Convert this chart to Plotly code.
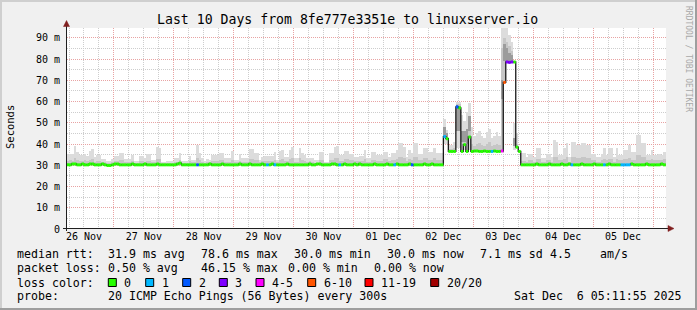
import plotly.graph_objects as go
import pandas as pd

# ---------------- data ----------------
TITLE = "Last 10 Days from 8fe777e3351e to linuxserver.io"
RANGE_START = "2025-11-26 05:11:55"
RANGE_END = "2025-12-06 05:11:55"
FIRST_STEP = "2025-11-26 05:00:00"
N_STEPS = 241
times = pd.date_range(FIRST_STEP, periods=N_STEPS, freq="h")

# median rtt per hour (ms)
median_ms = [
    30.2,30.2,30.6,30.6,30.2,30.2,30.6,30.2,30.2,30.6,30.6,30.2,30.2,30.2,30.6,30.2,29.9,29.9,30.2,30.6,30.6,30.2,30.2,30.2,
    30.2,30.2,30.6,30.2,30.2,30.2,30.2,30.6,30.2,30.2,30.2,30.2,30.6,30.2,30.2,30.2,30.2,30.2,30.2,30.2,30.6,31.0,30.2,30.2,
    30.2,30.2,30.2,30.2,30.2,30.2,30.2,30.2,30.2,30.6,30.2,30.2,30.2,30.2,30.6,30.2,30.2,30.2,30.2,30.2,30.2,30.6,30.2,30.2,
    30.2,30.6,30.2,30.2,30.2,30.2,30.6,30.2,30.2,30.2,30.6,30.2,30.2,30.2,30.2,30.2,30.6,30.2,30.2,30.2,30.2,30.2,30.2,30.2,
    30.2,30.6,30.2,30.2,30.6,30.6,30.2,30.2,30.2,30.2,30.6,30.6,30.2,30.2,30.2,30.6,30.2,30.2,30.2,30.6,30.2,30.6,30.2,30.2,
    30.2,30.2,30.2,30.6,30.2,30.2,30.2,30.2,30.6,30.2,30.2,30.2,30.6,30.2,30.2,30.2,30.2,30.6,30.2,30.2,30.2,30.2,30.2,30.6,
    30.2,30.2,30.6,30.2,30.2,30.2,30.2,
    43.5,42.5,36.5,36.5,36.5,57.5,57.0,36.5,39.7,36.5,43.3,36.5,36.7,36.7,36.5,36.5,
    36.7,36.5,36.5,36.5,36.7,36.5,36.5,36.7,69.0,78.6,78.4,78.6,78.6,38.5,36.5,30.2,
    30.2,30.2,30.2,30.2,30.2,30.6,30.2,30.2,30.2,30.2,30.6,30.2,30.2,30.2,30.2,30.6,30.2,30.2,30.6,30.2,30.2,30.2,30.2,30.6,
    30.2,30.2,30.2,30.2,30.6,30.2,30.2,30.2,30.2,30.2,30.6,30.2,30.2,30.2,30.2,30.2,30.2,30.2,30.2,30.6,30.2,30.2,30.2,30.2,
    30.2,30.6,30.2,30.2,30.2,30.2,30.2,30.6,30.2,30.2,
]

# highest ping per hour (top of the smoke, ms)
smoke_max_ms = [
    35.2,35.5,35.2,39.0,36.2,34.8,34.8,35.5,34.5,36.5,37.5,33.7,34.8,34.8,33.0,32.9,32.0,32.0,33.0,
    34.5,34.5,35.6,35.6,32.9,32.9,32.9,34.8,31.9,31.9,34.5,34.5,33.2,35.1,35.1,32.4,32.4,38.5,38.0,31.6,
    31.6,31.9,31.9,32.0,33.2,33.2,36.0,31.9,31.9,32.0,34.5,32.4,32.4,39.5,36.0,33.2,32.0,33.0,32.4,34.8,
    34.8,34.8,35.6,35.6,33.2,33.2,33.5,36.7,32.4,32.4,
    35.1,33.2,33.2,33.2,37.6,37.6,35.6,35.6,32.4,34.0,
    34.5,34.5,34.5,34.5,36.3,32.4,36.7,37.0,34.0,34.0,
    37.1,38.7,33.2,33.2,38.2,36.0,34.8,33.2,33.2,33.2,
    32.4,32.4,36.3,36.3,31.6,31.6,35.6,35.6,38.5,39.0,
    34.8,34.8,36.7,36.7,35.1,35.1,34.0,34.0,
    34.3,34.3,37.1,33.2,33.2,36.3,36.3,34.8,34.8,34.8,
    36.3,36.3,34.0,35.6,35.6,37.1,40.3,40.3,38.7,33.7,
    37.1,36.0,40.3,40.3,35.2,35.2,37.9,37.9,36.3,36.3,
    37.9,35.6,35.6,35.6,
    52.0,46.5,39.5,39.5,41.0,60.0,60.0,53.6,51.0,55.0,59.4,48.0,44.0,45.0,46.0,44.0,
    43.0,45.5,47.0,43.0,44.0,45.5,44.0,100.0,100.0,96.0,91.4,88.0,50.0,45.0,36.0,35.7,
    35.7,
    33.9,35.5,35.5,33.9,37.9,37.9,33.2,33.2,35.5,35.5,
    33.9,41.8,41.0,34.8,34.8,37.9,40.3,33.9,41.0,41.0,
    39.5,39.5,40.3,40.3,39.5,39.5,35.2,35.2,33.9,33.9,
    35.5,37.9,34.8,37.9,37.9,33.9,37.9,34.8,34.8,37.1,
    37.1,39.5,36.3,36.3,44.2,44.2,40.3,40.3,34.8,34.8,
    37.1,34.8,34.8,35.5,34.8,36.3,36.3,
]

# upper-quartile ping per hour (ms)
smoke_q3_ms = [
    32.0,32.5,32.0,33.5,32.5,31.8,32.0,32.5,31.8,32.5,33.0,31.5,32.0,32.0,31.5,31.5,31.0,31.0,31.5,32.0,32.0,32.5,32.5,31.5,
    31.5,31.5,32.0,31.0,31.0,32.0,32.0,31.5,32.0,32.0,31.5,31.5,33.0,33.0,31.0,31.0,31.0,31.0,31.2,31.5,31.5,32.5,31.0,31.0,
    31.2,32.0,31.5,31.5,33.5,32.5,31.5,31.2,31.5,31.5,32.0,32.0,32.0,32.5,32.5,31.5,31.5,31.5,32.5,31.5,31.5,32.0,31.5,31.5,
    31.5,33.0,33.0,32.5,32.5,31.5,31.8,32.0,32.0,32.0,32.0,32.5,31.5,32.5,33.0,32.0,32.0,33.0,33.5,31.5,31.5,33.5,32.5,32.0,
    31.5,31.8,31.5,31.2,31.2,32.5,32.5,31.0,31.0,32.5,32.5,33.5,33.5,32.0,32.0,33.0,33.0,32.5,32.5,32.0,32.0,32.0,32.0,33.0,
    31.5,31.5,32.5,32.5,32.0,32.0,32.0,33.0,33.0,32.0,32.5,32.5,33.0,34.0,34.0,33.5,31.8,33.0,32.5,34.0,34.0,32.5,32.5,33.5,
    33.5,32.5,32.5,33.5,32.5,32.5,32.5,
    48.0,44.0,37.5,37.5,38.0,59.0,59.0,45.0,46.0,46.0,52.0,40.0,39.0,40.0,40.5,39.5,
    39.0,40.0,41.0,39.0,39.5,40.0,39.5,85.0,90.0,88.0,86.0,84.0,44.0,40.0,32.0,32.0,
    32.0,31.5,32.5,32.5,31.5,33.0,33.0,31.5,31.5,32.5,32.5,31.5,34.0,34.0,32.5,32.5,33.0,34.0,31.5,34.0,34.0,33.5,33.5,34.0,
    34.0,33.5,33.5,32.5,32.5,31.5,31.5,32.5,33.0,32.5,33.0,33.0,31.5,33.0,32.5,32.5,33.0,33.0,33.5,32.5,32.5,35.0,35.0,34.0,
    34.0,32.5,32.5,33.0,32.5,32.5,32.5,32.5,33.0,33.0,
]

# lost pings (of 20) per hour
loss_pings = [
    0,0,0,0,0,0,0,0,0,0,0,0,0,0,0,0,0,0,0,0,0,0,0,0,
    0,0,0,0,0,0,0,0,0,0,0,0,0,0,0,0,0,0,0,0,0,0,0,0,
    0,0,0,0,2,0,0,0,0,0,0,0,0,0,0,0,0,0,0,0,0,0,0,0,
    0,0,0,0,0,0,0,0,1,0,0,1,0,0,0,0,0,0,0,0,0,0,0,0,
    0,0,0,0,0,0,0,0,0,0,0,0,0,1,0,0,0,0,0,0,0,0,0,0,
    0,0,0,0,0,0,0,0,0,0,0,1,0,0,0,0,0,0,2,0,0,0,0,0,
    0,0,0,0,0,0,0,
    1,0,0,0,0,2,0,0,0,0,0,0,0,0,0,0,
    0,0,0,1,0,0,0,4,9,3,3,3,0,0,0,0,
    0,0,0,0,0,0,0,0,0,0,0,0,0,0,0,0,0,0,0,1,0,0,0,0,
    0,0,0,0,0,0,0,0,1,0,0,0,0,0,0,1,1,1,1,0,0,0,0,0,
    0,0,0,0,0,0,0,0,0,0,
]

# wide-spread hours during the 02-03 Dec event (hour index into times)
event_hours = [151, 152, 156, 157, 158, 159, 160, 161, 174, 175, 176, 177, 178, 179]
event_min_ms = [40, 40, 38, 38, 36.5, 37, 37, 37, 55, 78, 78, 78, 78, 37]
event_core_lo = [44, 43, 46, 46, 41, 41, 40, 46, 61, 79, 79, 79, 79, 39]
event_core_hi = [48, 45, 58.5, 58, 46, 46, 47, 53, 70, 87, 85, 83, 82, 43]

for name, arr in [("median", median_ms), ("max", smoke_max_ms), ("q3", smoke_q3_ms), ("loss", loss_pings)]:
    if len(arr) != N_STEPS:
        raise SystemExit(f"{name} has {len(arr)} values")

y_tick_vals = [0, 10, 20, 30, 40, 50, 60, 70, 80, 90]
y_tick_text = ["0", "10 m", "20 m", "30 m", "40 m", "50 m", "60 m", "70 m", "80 m", "90 m"]
Y_MAX = 94.6

loss_labels = ["0", "1", "2", "3", "4-5", "6-10", "11-19", "20/20"]
loss_upper = [0, 1, 2, 3, 5, 10, 19, 20]
loss_colors = ["#26ff00", "#00b8ff", "#0059ff", "#7e00ff", "#ff00ff", "#ff5500", "#ff0000", "#a10000"]

rtt_stats = ["31.9 ms avg", "78.6 ms max", "30.0 ms min", "30.0 ms now", "7.1 ms sd", "4.5", "am/s"]
loss_stats = ["0.50 % avg", "46.15 % max", "0.00 % min", "0.00 % now"]
probe_text = "20 ICMP Echo Pings (56 Bytes) every 300s"
stamp_text = "Sat Dec  6 05:11:55 2025"

# ---------------- layout geometry ----------------
W, H = 697, 310
L, R, T, B = 67, 31, 28, 81
PW, PH = W - L - R, H - T - B
MONO = "DejaVu Sans Mono"
HOUR = pd.Timedelta(hours=1)
HOUR_MS = 3600 * 1000


def xp(px):
    return (px - L) / PW


def yp(py):
    return (T + PH - py) / PH


def loss_band(n):
    for k, up in enumerate(loss_upper):
        if n <= up:
            return k
    return len(loss_upper) - 1


fig = go.Figure()

# smoke: light (min..max)
light_base = list(median_ms)
for h, v in zip(event_hours, event_min_ms):
    light_base[h] = v
fig.add_bar(x=times, base=light_base, y=[mx - b for mx, b in zip(smoke_max_ms, light_base)],
            width=HOUR_MS, offset=0, marker=dict(color="#dcdcdc", line=dict(width=0)), hoverinfo="skip")
# smoke: medium (median..q3)
fig.add_bar(x=times, base=median_ms, y=[max(q - m, 0) for q, m in zip(smoke_q3_ms, median_ms)],
            width=HOUR_MS, offset=0, marker=dict(color="#c6c6c6", line=dict(width=0)), hoverinfo="skip")
# smoke: darker core during the event
fig.add_bar(x=[times[h] for h in event_hours], base=event_core_lo,
            y=[hi - lo for hi, lo in zip(event_core_hi, event_core_lo)],
            width=HOUR_MS, offset=0, marker=dict(color="#9c9c9c", line=dict(width=0)), hoverinfo="skip")

# black median step line
fig.add_scatter(x=times, y=median_ms, mode="lines", line=dict(shape="hv", color="#1a1a1a", width=1.3),
                hoverinfo="skip")

# coloured median segments by loss band (one horizontal segment per hour)
for k, col in enumerate(loss_colors):
    xs, ys = [], []
    for t, m, n in zip(times, median_ms, loss_pings):
        if loss_band(n) == k:
            xs += [t, t + HOUR, None]
            ys += [m, m, None]
    if xs:
        fig.add_scatter(x=xs, y=ys, mode="lines", line=dict(color=col, width=3), connectgaps=False,
                        hoverinfo="skip")

MAJOR = "#e8a3a3"
MINOR = "#cdcdcd"
fig.update_layout(
    width=W, height=H, autosize=False,
    margin=dict(l=L, r=R, t=T, b=B, pad=0),
    paper_bgcolor="#f0f0f0", plot_bgcolor="#ffffff",
    showlegend=False, barmode="overlay", bargap=0,
    xaxis=dict(
        type="date", range=[RANGE_START, RANGE_END], fixedrange=True,
        tickmode="linear", tick0="2025-11-26", dtick=86400000, ticklabelmode="period", tickformat="%d %b",
        showgrid=True, gridcolor=MAJOR, gridwidth=1, griddash="1px,1px",
        minor=dict(tickmode="linear", tick0="2025-11-26", dtick=6 * HOUR_MS, showgrid=True,
                   gridcolor=MINOR, gridwidth=1, griddash="1px,1px"),
        ticks="", showline=False, zeroline=False,
        tickfont=dict(family=MONO, size=10, color="#000000"),
    ),
    yaxis=dict(
        range=[0, Y_MAX], fixedrange=True,
        tickmode="array", tickvals=y_tick_vals, ticktext=y_tick_text,
        showgrid=True, gridcolor=MAJOR, gridwidth=1, griddash="1px,1px",
        minor=dict(tickmode="linear", tick0=0, dtick=5, showgrid=True,
                   gridcolor=MINOR, gridwidth=1, griddash="1px,1px"),
        ticks="", showline=False, zeroline=False, ticklabelstandoff=6,
        tickfont=dict(family=MONO, size=10, color="#000000"),
    ),
)

shapes = []
# frame (rrdtool 3D shade)
shapes.append(dict(type="rect", xref="paper", yref="paper", x0=xp(0), x1=xp(W), y0=yp(0), y1=yp(2),
                   fillcolor="#cfcfcf", line=dict(width=0), layer="above"))
shapes.append(dict(type="rect", xref="paper", yref="paper", x0=xp(0), x1=xp(2), y0=yp(0), y1=yp(H),
                   fillcolor="#cfcfcf", line=dict(width=0), layer="above"))
shapes.append(dict(type="rect", xref="paper", yref="paper", x0=xp(0), x1=xp(W), y0=yp(H - 2), y1=yp(H),
                   fillcolor="#9e9e9e", line=dict(width=0), layer="above"))
shapes.append(dict(type="rect", xref="paper", yref="paper", x0=xp(W - 2), x1=xp(W), y0=yp(0), y1=yp(H),
                   fillcolor="#9e9e9e", line=dict(width=0), layer="above"))
# axes with arrows
AX = "#1f1f1f"
ARROW = "#801f1f"
shapes.append(dict(type="line", xref="paper", yref="paper", x0=xp(66.5), x1=xp(66.5), y0=yp(231), y1=yp(24),
                   line=dict(color=AX, width=1), layer="above"))
shapes.append(dict(type="line", xref="paper", yref="paper", x0=xp(63), x1=xp(670), y0=yp(228.5), y1=yp(228.5),
                   line=dict(color=AX, width=1), layer="above"))
shapes.append(dict(type="path", xref="paper", yref="paper",
                   path=f"M {xp(63.5)} {yp(26.5)} L {xp(69.5)} {yp(26.5)} L {xp(66.5)} {yp(20.5)} Z",
                   fillcolor=ARROW, line=dict(color=ARROW, width=0.5), layer="above"))
shapes.append(dict(type="path", xref="paper", yref="paper",
                   path=f"M {xp(668)} {yp(225.5)} L {xp(668)} {yp(231.5)} L {xp(674)} {yp(228.5)} Z",
                   fillcolor=ARROW, line=dict(color=ARROW, width=0.5), layer="above"))

# loss colour legend boxes
box_x = [108.3, 145.7, 182.7, 219.3, 256, 307.7, 365, 430.7]
for bx, c in zip(box_x, loss_colors):
    shapes.append(dict(type="rect", xref="paper", yref="paper", x0=xp(bx), x1=xp(bx + 8),
                       y0=yp(286.5), y1=yp(278.5), fillcolor=c, line=dict(color="#000000", width=1),
                       layer="above"))
fig.update_layout(shapes=shapes)

ann = []


def text(s, px, py, size=11.6, anchor="left", color="#000000", angle=0):
    ann.append(dict(text=s, x=xp(px), y=yp(py), xref="paper", yref="paper", showarrow=False,
                    xanchor=anchor, yanchor="middle", textangle=angle,
                    font=dict(family=MONO, size=size, color=color)))


text(TITLE, 347.3, 19.5, size=13.2, anchor="center")
text("Seconds", 10, 127, size=10.5, anchor="center", angle=-90)
text("RRDTOOL / TOBI OETIKER", 688, 59, size=8, anchor="center", color="#a8a8a8", angle=90)

ROW = [254.3, 268.3, 282.6, 296.2]
text("median rtt:", 15, ROW[0])
for s, px in zip(rtt_stats, [106.3, 199, 292.3, 385, 478.3, 547.5, 598.3]):
    text(s, px, ROW[0])
text("packet loss:", 15, ROW[1])
for s, px in zip(loss_stats, [106.3, 199, 285.7, 371.7]):
    text(s, px, ROW[1])
text("loss color:", 15, ROW[2])
for s, bx in zip(loss_labels, box_x):
    text(s, bx + 14, ROW[2])
text("probe:", 15, ROW[3])
text(probe_text, 106.3, ROW[3])
text(stamp_text, 512.3, ROW[3])
fig.update_layout(annotations=ann)

fig.write_html("out.html", config=dict(displayModeBar=False, staticPlot=True))
